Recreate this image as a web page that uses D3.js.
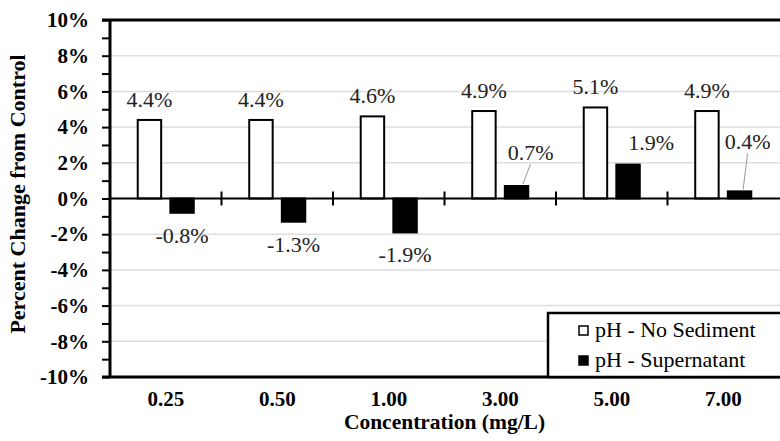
<!DOCTYPE html>
<html>
<head>
<meta charset="utf-8">
<script src="https://cdn.jsdelivr.net/npm/d3@7/dist/d3.min.js"></script>
<style>
  html, body { margin: 0; padding: 0; background: #fff; }
  svg { display: block; }
  svg text { font-family: "Liberation Serif", "Times New Roman", serif; fill: #000; }
</style>
</head>
<body>
<svg id="chart" width="780" height="441"></svg>
<script>
// Concentration categories (mg/L)
const categories = ["0.25", "0.50", "1.00", "3.00", "5.00", "7.00"];
// Series names
const seriesNames = ["pH - No Sediment", "pH - Supernatant"];
// Percent change from control for each series
const noSediment = [4.4, 4.4, 4.6, 4.9, 5.1, 4.9];
const supernatant = [-0.8, -1.3, -1.9, 0.7, 1.9, 0.4];
// Y-axis ticks (percent)
const yTicks = [-10, -8, -6, -4, -2, 0, 2, 4, 6, 8, 10];
const yMinorTicks = d3.range(-10, 11, 1);

// Hand-placed nudges (px) for the supernatant value labels: [dx, dy, leader line]
const supLabelNudge = [
  [0, 0, false], [0, 0, false], [0, 0, false],
  [14, -11, true], [23, 0, false], [8, -27, true]
];

const SERIF = "'Liberation Serif','Times New Roman',serif";
const svg = d3.select("#chart");
const W = 780, H = 441;
const m = { left: 110, right: 779, top: 20, bottom: 377 };

const x = d3.scaleBand().domain(categories).range([m.left, m.right]).paddingInner(0).paddingOuter(0);
const x1 = d3.scaleBand().domain(seriesNames).range([0, x.bandwidth()]).paddingInner(0.22).paddingOuter(0.82);
const y = d3.scaleLinear().domain([-10, 10]).range([m.bottom, m.top]);

// Gridlines
svg.append("g").selectAll("line")
  .data(yTicks.filter(t => t !== 0 && Math.abs(t) !== 10))
  .join("line")
  .attr("x1", m.left).attr("x2", W)
  .attr("y1", d => y(d)).attr("y2", d => y(d))
  .attr("stroke", "#dedede").attr("stroke-width", 1.5);

// Bars
const rows = categories.map((c, i) => ({ c, v: [noSediment[i], supernatant[i]] }));
const groups = svg.append("g").selectAll("g").data(rows).join("g")
  .attr("transform", d => `translate(${x(d.c)},0)`);

groups.selectAll("rect")
  .data(d => d.v.map((v, k) => ({ s: seriesNames[k], v, k })))
  .join("rect")
  .attr("x", d => x1(d.s) + 1)
  .attr("width", x1.bandwidth() - 2)
  .attr("y", d => y(Math.max(0, d.v)))
  .attr("height", d => Math.abs(y(d.v) - y(0)))
  .attr("fill", d => d.k === 0 ? "#fff" : "#000")
  .attr("stroke", "#000").attr("stroke-width", 2);

// Plot frame: top and bottom border lines
svg.append("line").attr("x1", m.left - 8).attr("x2", W).attr("y1", y(10)).attr("y2", y(10))
  .attr("stroke", "#000").attr("stroke-width", 3);
svg.append("line").attr("x1", m.left - 8).attr("x2", W).attr("y1", y(-10)).attr("y2", y(-10))
  .attr("stroke", "#000").attr("stroke-width", 3);

// Zero baseline with category divider ticks
svg.append("line").attr("x1", m.left).attr("x2", W).attr("y1", y(0)).attr("y2", y(0))
  .attr("stroke", "#000").attr("stroke-width", 2);
svg.append("g").selectAll("line").data(categories.slice(1)).join("line")
  .attr("x1", d => x(d)).attr("x2", d => x(d))
  .attr("y1", y(0) - 7).attr("y2", y(0) + 7)
  .attr("stroke", "#000").attr("stroke-width", 2);

// Y axis
const yAxis = svg.append("g").attr("transform", `translate(${m.left},0)`)
  .call(d3.axisLeft(y).tickValues(yMinorTicks).tickSize(8).tickPadding(13)
    .tickFormat(d => d % 2 === 0 ? d + "%" : ""));
yAxis.attr("font-family", null);
yAxis.select(".domain").attr("stroke-width", 3).attr("d", `M0,${m.top}V${m.bottom}`);
yAxis.selectAll(".tick line").attr("stroke-width", 2);
yAxis.selectAll("text").attr("font-size", 21).attr("font-weight", "bold")
  .style("font-family", SERIF);

// X axis labels
const xAxis = svg.append("g").attr("transform", `translate(0,${m.bottom})`)
  .call(d3.axisBottom(x).tickSize(0).tickPadding(14));
xAxis.attr("font-family", null);
xAxis.select(".domain").remove();
xAxis.selectAll("text").attr("font-size", 21).attr("font-weight", "bold")
  .style("font-family", SERIF);

// Value labels: no sediment
const fmt = v => v.toFixed(1) + "%";
svg.append("g").selectAll("text").data(rows).join("text")
  .attr("x", d => x(d.c) + x1(seriesNames[0]) + x1.bandwidth() / 2)
  .attr("y", d => y(d.v[0]) - 13)
  .attr("text-anchor", "middle").attr("font-size", 22)
  .style("font-family", SERIF).style("fill", "#222")
  .text(d => fmt(d.v[0]));

// Value labels: supernatant
const supLab = svg.append("g").selectAll("g").data(rows).join("g");
supLab.each(function (d, i) {
  const g = d3.select(this);
  const v = d.v[1];
  const cx = x(d.c) + x1(seriesNames[1]) + x1.bandwidth() / 2;
  const [dx, dy, leader] = supLabelNudge[i];
  const by = v >= 0 ? y(v) - 15 + dy : y(v) + 30;
  if (leader) {
    g.append("line")
      .attr("x1", cx + dx * 0.45).attr("y1", y(v) - 2)
      .attr("x2", cx + dx).attr("y2", by + 4)
      .attr("stroke", "#999").attr("stroke-width", 1);
  }
  g.append("text")
    .attr("x", cx + dx).attr("y", by)
    .attr("text-anchor", "middle").attr("font-size", 22)
    .style("font-family", SERIF).style("fill", "#222")
    .text(fmt(v));
});

// Axis titles
svg.append("text")
  .attr("transform", `translate(25,${(48 + 340) / 2}) rotate(-90)`)
  .attr("text-anchor", "middle").attr("font-size", 22).attr("font-weight", "bold")
  .style("font-family", SERIF)
  .text("Percent Change from Control");
svg.append("text")
  .attr("x", (m.left + m.right) / 2).attr("y", 429)
  .attr("text-anchor", "middle").attr("font-size", 21.5).attr("font-weight", "bold")
  .style("font-family", SERIF)
  .text("Concentration (mg/L)");

// Legend
const lg = svg.append("g").attr("transform", "translate(548,313)");
lg.append("rect").attr("x", 0).attr("y", 0).attr("width", 250).attr("height", y(-10) - 313)
  .attr("fill", "#fff").attr("stroke", "#000").attr("stroke-width", 2.5);
seriesNames.forEach((s, k) => {
  lg.append("rect").attr("x", 31).attr("y", 13 + k * 30).attr("width", 9).attr("height", 9)
    .attr("fill", k === 0 ? "#fff" : "#000").attr("stroke", "#000").attr("stroke-width", 1.5);
  lg.append("text").attr("x", 47).attr("y", 24 + k * 30).attr("font-size", 22)
    .style("font-family", SERIF).text(s);
});
</script>
</body>
</html>
